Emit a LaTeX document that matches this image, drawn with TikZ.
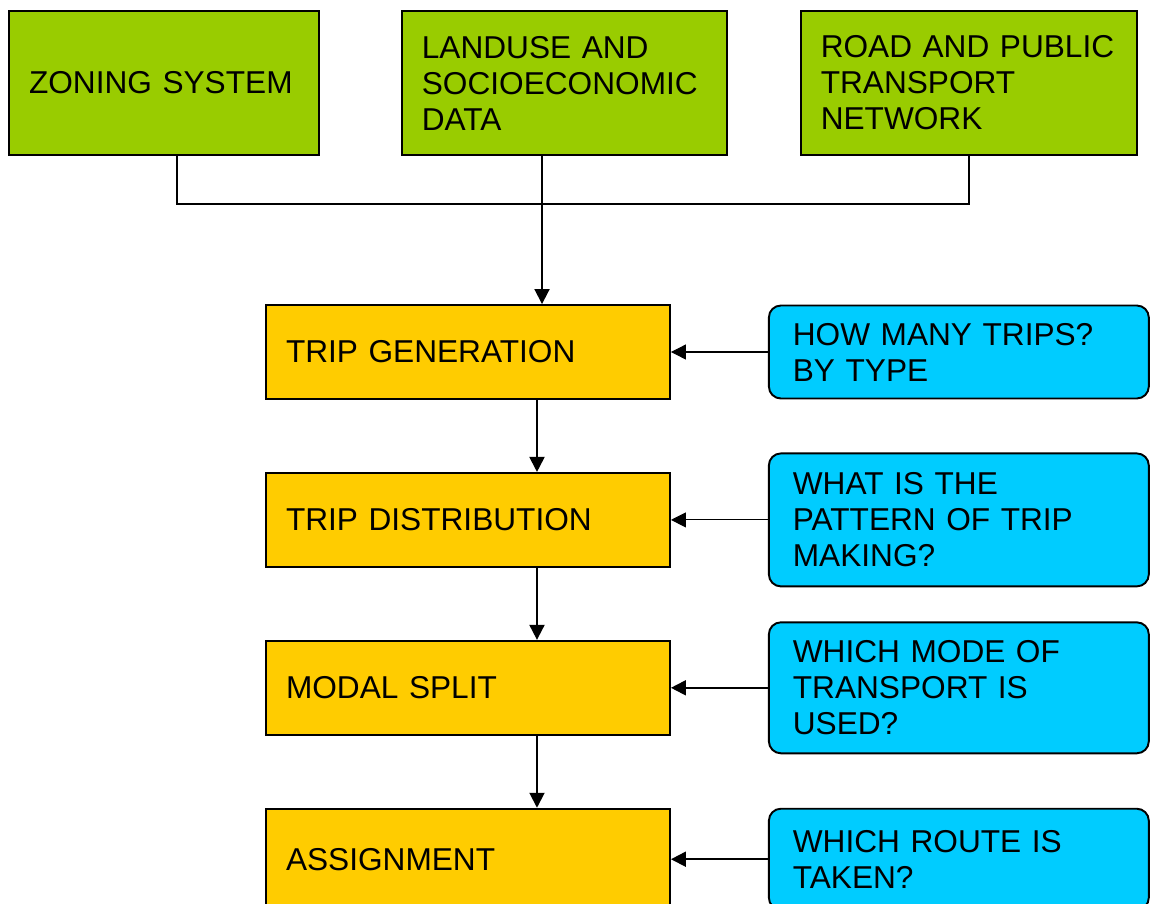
\documentclass[tikz,border=0pt]{standalone}
\usepackage{fontspec}
\setmainfont{Liberation Sans}
\usepackage{tikz}
\usetikzlibrary{positioning, arrows.meta}

\definecolor{inputgreen}{HTML}{99CC00}
\definecolor{stageorange}{HTML}{FFCC00}
\definecolor{askblue}{HTML}{00CCFF}

\tikzset{
	inbox/.style={draw, line width=1.1pt, fill=inputgreen, align=left, inner xsep=0.4cm, minimum height=2.88cm, font=\fontsize{18}{20.5}\selectfont},
	stagebox/.style={draw, line width=1.1pt, fill=stageorange, align=left, text width=7.28cm, inner xsep=0.4cm, minimum height=1.88cm, font=\fontsize{18}{20.5}\selectfont},
	askbox/.style={draw, line width=1.1pt, fill=askblue, rounded corners=0.24cm, align=left, text width=6.64cm, inner xsep=0.48cm, font=\fontsize{18}{20.5}\selectfont},
	link/.style={line width=1.1pt},
	flow/.style={line width=1.1pt, -{Triangle[length=0.3cm, width=0.3cm]}}
}

\begin{document}
\begin{tikzpicture}[x=0.02cm, y=-0.02cm]
			\useasboundingbox (0,0) rectangle (1151,903);
			\clip (0,0) rectangle (1151,903);
			% Nodes
			\node (zone) [inbox, text width=5.4cm] at (164,83) {ZONING SYSTEM};
			\node (land) [inbox, text width=5.7cm, right=1.62cm of zone] {LANDUSE AND\\SOCIOECONOMIC\\DATA};
			\node (road) [inbox, text width=5.92cm, right=1.44cm of land] {ROAD AND PUBLIC\\TRANSPORT\\NETWORK};
			\coordinate (hub) at (542,204);
			
			\node (gen) [stagebox] at (468,352) {TRIP GENERATION};
			\node (dist) [stagebox, below=1.44cm of gen] {TRIP DISTRIBUTION};
			\node (mode) [stagebox, below=1.44cm of dist] {MODAL SPLIT};
			\node (assign) [stagebox, minimum height=2.02cm, below=1.44cm of mode] {ASSIGNMENT};
			
			\node (q1) [askbox, minimum height=1.86cm, right=1.94cm of gen] {HOW MANY TRIPS?\\BY TYPE};
			\node (q2) [askbox, minimum height=2.66cm, right=1.94cm of dist] {WHAT IS THE\\PATTERN OF TRIP\\MAKING?};
			\node (q3) [askbox, minimum height=2.62cm, right=1.94cm of mode] {WHICH MODE OF\\TRANSPORT IS\\USED?};
			\node (q4) [askbox, minimum height=2.02cm, right=1.94cm of assign] {WHICH ROUTE IS\\TAKEN?};
			
			% Edges
			\draw[link] ([xshift=0.26cm]zone.south) |- (hub) -| (road.south);
			\draw[flow] (land.south -| hub) -- (gen.north -| hub);
			\draw[flow] ([xshift=1.38cm]gen.south) -- ([xshift=1.38cm]dist.north);
			\draw[flow] ([xshift=1.38cm]dist.south) -- ([xshift=1.38cm]mode.north);
			\draw[flow] ([xshift=1.38cm]mode.south) -- ([xshift=1.38cm]assign.north);
			\draw[flow, line width=0.6pt] (q1) -- (gen);
			\draw[flow, line width=0.6pt] (q2) -- (dist);
			\draw[flow] (q3) -- (mode);
			\draw[flow] (q4) -- (assign);

		\end{tikzpicture}
\end{document}
